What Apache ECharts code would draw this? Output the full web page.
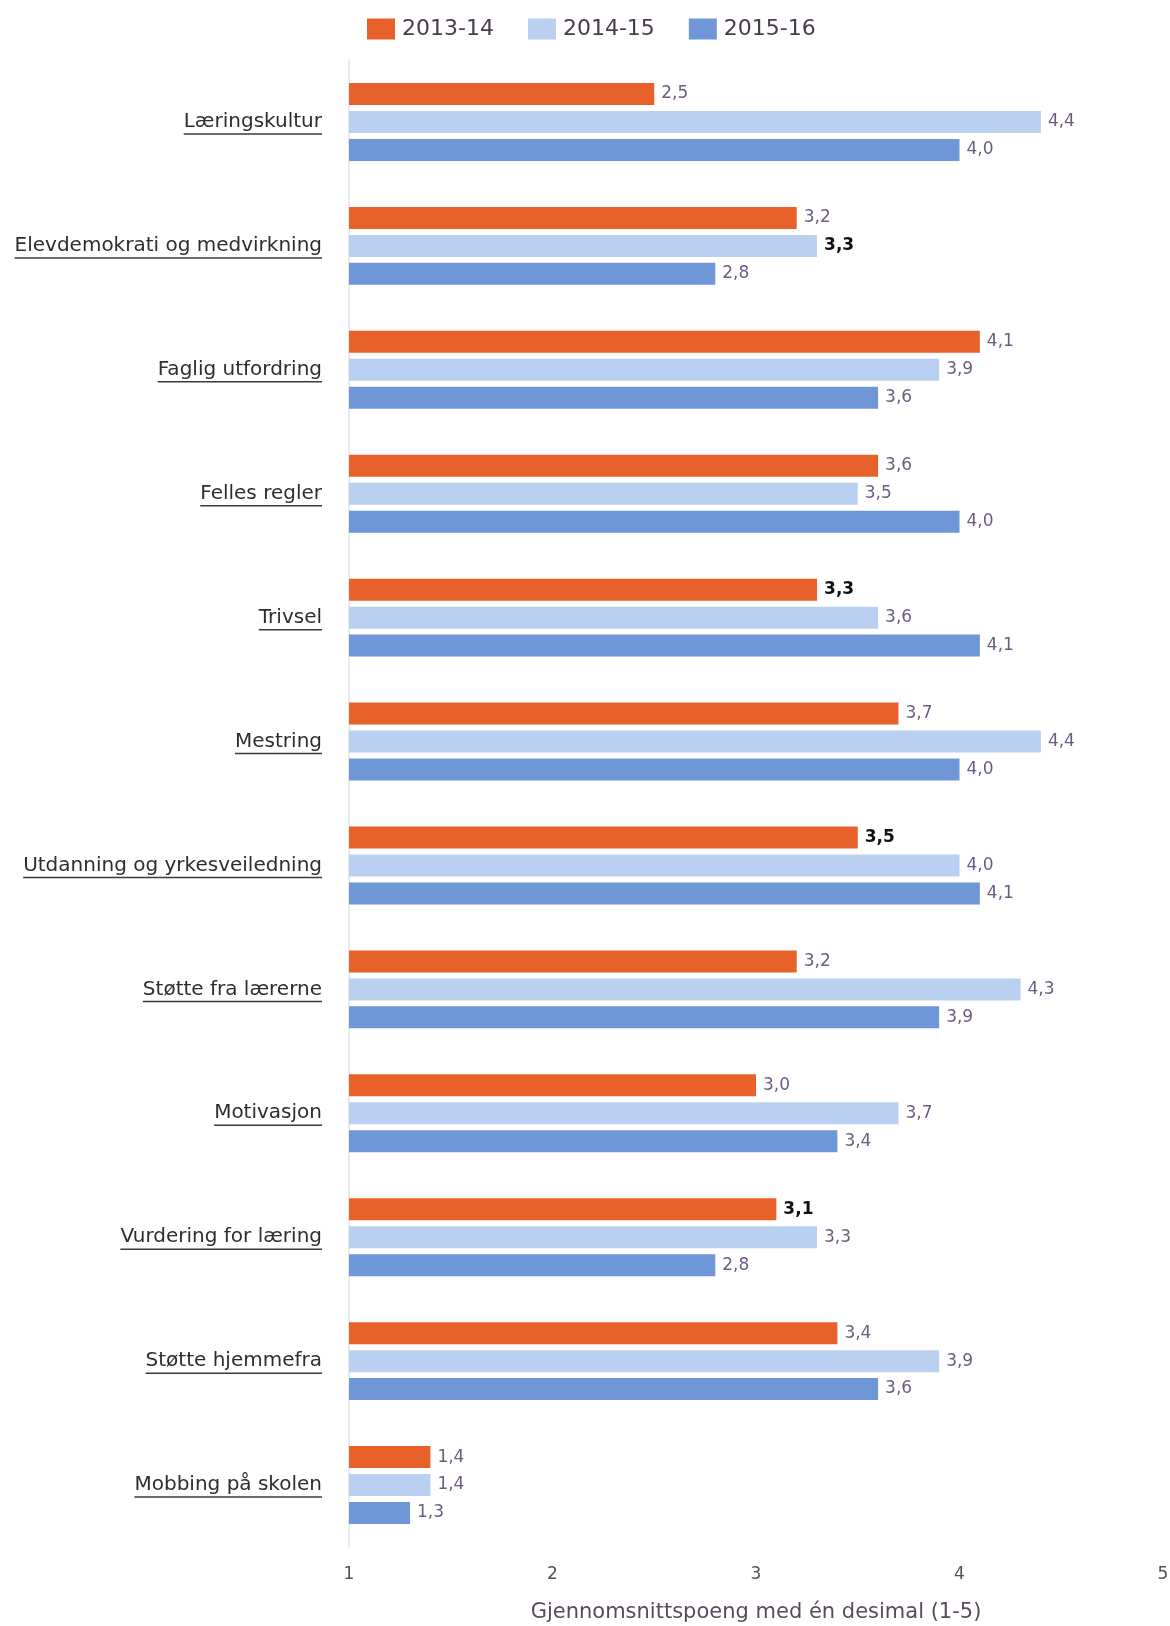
<!DOCTYPE html>
<html>
<head>
<meta charset="utf-8">
<script src="https://cdn.jsdelivr.net/npm/echarts@6/dist/echarts.min.js"></script>
<style>
html,body{margin:0;padding:0;background:#fff;}
#chart{width:1170px;height:1626px;}
</style>
</head>
<body>
<div id="chart"></div>
<script>
var categories = ["Læringskultur","Elevdemokrati og medvirkning","Faglig utfordring","Felles regler","Trivsel","Mestring","Utdanning og yrkesveiledning","Støtte fra lærerne","Motivasjon","Vurdering for læring","Støtte hjemmefra","Mobbing på skolen"];
var seriesNames = ["2013-14","2014-15","2015-16"];
var values2013 = [2.5,3.2,4.1,3.6,3.3,3.7,3.5,3.2,3.0,3.1,3.4,1.4];
var values2014 = [4.4,3.3,3.9,3.5,3.6,4.4,4.0,4.3,3.7,3.3,3.9,1.4];
var values2015 = [4.0,2.8,3.6,4.0,4.1,4.0,4.1,3.9,3.4,2.8,3.6,1.3];
var xTicks = [1,2,3,4,5];
var xAxisTitle = "Gjennomsnittspoeng med én desimal (1-5)";
// labels shown in bold black in the original: [seriesIndex, categoryIndex]
var boldLabels = [[1,1],[0,4],[0,6],[0,9]];

var colors = ["#e8602a","#b9d0f0","#6f96d6"];
var labelFont = "20px 'DejaVu Sans'";
var gridLeft = 349, labelMargin = 27;

function isBold(s, i){
  for (var k=0;k<boldLabels.length;k++){ if(boldLabels[k][0]===s && boldLabels[k][1]===i) return true; }
  return false;
}
function makeData(arr, s){
  return arr.map(function(v,i){
    var d = {value:v};
    if (isBold(s,i)) d.label = {color:'#111', fontWeight:'bold'};
    return d;
  });
}
var measureCtx = document.createElement('canvas').getContext('2d');
measureCtx.font = labelFont;

var chart = echarts.init(document.getElementById('chart'));
var allVals = [values2013, values2014, values2015];
var barSeries = allVals.map(function(arr, s){
  return {
    name: seriesNames[s],
    type: 'bar',
    data: makeData(arr, s),
    barWidth: 22,
    barGap: '27%',
    itemStyle: {color: colors[s]},
    label: {
      show: true, position: 'right', distance: 7,
      fontFamily: 'DejaVu Sans', fontSize: 17, color: '#6e5c80',
      formatter: function(p){ return p.value.toFixed(1).replace('.', ','); }
    }
  };
});
barSeries.push({
  type: 'custom',
  name: 'underline',
  silent: true,
  clip: false,
  data: categories.map(function(c,i){ return [1, i]; }),
  renderItem: function(params, api){
    var idx = api.value(1);
    var pt = api.coord([1, idx]);
    var w = measureCtx.measureText(categories[idx]).width;
    var xEnd = pt[0] - labelMargin;
    var y = pt[1] + 12;
    return {
      type: 'line',
      shape: {x1: xEnd - w, y1: y, x2: xEnd, y2: y},
      style: {stroke: '#3a3a3a', lineWidth: 1.5}
    };
  }
});

chart.setOption({
  animation: false,
  backgroundColor: '#fff',
  legend: {
    data: seriesNames,
    top: 13, left: 362,
    itemWidth: 28, itemHeight: 21, itemGap: 34,
    icon: 'rect',
    textStyle: {fontFamily: 'DejaVu Sans', fontSize: 22, color: '#4a3a4e', padding:[0,0,0,2]}
  },
  grid: {left: gridLeft, right: 7, top: 60, bottom: 79, containLabel: false, outerBoundsMode: 'none'},
  xAxis: {
    type: 'value', min: xTicks[0], max: xTicks[xTicks.length-1], interval: 1,
    axisLine: {show: false}, axisTick: {show: false}, splitLine: {show: false},
    axisLabel: {fontFamily: 'DejaVu Sans', fontSize: 17, color: '#5a4a5e', margin: 19},
    name: xAxisTitle, nameLocation: 'middle', nameGap: 55,
    nameTextStyle: {fontFamily: 'DejaVu Sans', fontSize: 21, color: '#5a4a5e'}
  },
  yAxis: {
    type: 'category', data: categories, inverse: true,
    axisLine: {show: true, lineStyle: {color: '#e2e2e8', width: 1.5}},
    axisTick: {show: false},
    axisLabel: {fontFamily: 'DejaVu Sans', fontSize: 20, color: '#2e2e2e', margin: labelMargin}
  },
  series: barSeries
});
</script>
</body>
</html>
